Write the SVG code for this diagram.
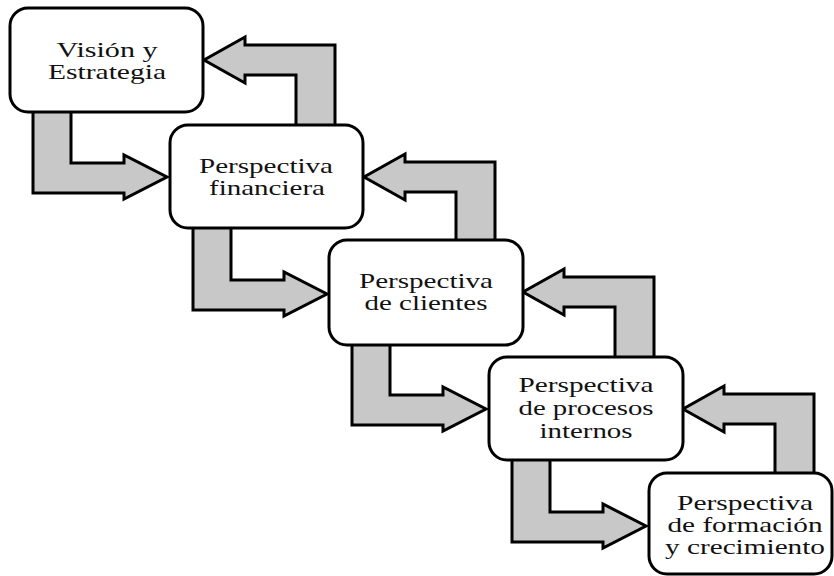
<svg xmlns="http://www.w3.org/2000/svg" width="834" height="576" viewBox="0 0 834 576">
<style>
.arrow{fill:#c8c8c8;stroke:#000;stroke-width:3;stroke-linejoin:miter}
.box{fill:#fff;stroke:#000;stroke-width:3}
.t{font-family:'Liberation Serif','Times New Roman',Tinos,serif;font-size:21px;fill:#111;text-anchor:middle}
</style>
<rect width="834" height="576" fill="#fff"/>
<g id="connectors">
<path class="arrow" d="M33,108 L71,108 L71,163 L124,163 L124,155 L167,177 L124,199 L124,193 L33,193 Z"/>
<path class="arrow" d="M193,225 L231,225 L231,280 L284,280 L284,272 L327,294 L284,316 L284,310 L193,310 Z"/>
<path class="arrow" d="M352,340 L390,340 L390,395 L443,395 L443,387 L486,409 L443,431 L443,425 L352,425 Z"/>
<path class="arrow" d="M512,457 L550,457 L550,512 L603,512 L603,504 L646,526 L603,548 L603,542 L512,542 Z"/>
<path class="arrow" d="M335,128 L335,45 L245,45 L245,37 L204,60 L245,83 L245,75 L296,75 L296,128 Z"/>
<path class="arrow" d="M495,245 L495,162 L405,162 L405,154 L364,177 L405,200 L405,192 L456,192 L456,245 Z"/>
<path class="arrow" d="M654,360 L654,277 L564,277 L564,269 L523,292 L564,315 L564,307 L615,307 L615,360 Z"/>
<path class="arrow" d="M814,477 L814,394 L724,394 L724,386 L683,409 L724,432 L724,424 L775,424 L775,477 Z"/>
</g>
<g id="vision">
<rect class="box" x="10" y="8" width="193" height="104" rx="18"/>
<text class="t" x="107" y="57" textLength="101" lengthAdjust="spacingAndGlyphs">Visión y</text>
<text class="t" x="107" y="79" textLength="118" lengthAdjust="spacingAndGlyphs">Estrategia</text>
</g>
<g id="financiera">
<rect class="box" x="170" y="125" width="193" height="103" rx="18"/>
<text class="t" x="266" y="173" textLength="134" lengthAdjust="spacingAndGlyphs">Perspectiva</text>
<text class="t" x="267" y="195" textLength="116" lengthAdjust="spacingAndGlyphs">financiera</text>
</g>
<g id="clientes">
<rect class="box" x="329" y="240" width="194" height="105" rx="18"/>
<text class="t" x="426" y="288" textLength="134" lengthAdjust="spacingAndGlyphs">Perspectiva</text>
<text class="t" x="426" y="310" textLength="123" lengthAdjust="spacingAndGlyphs">de clientes</text>
</g>
<g id="procesos">
<rect class="box" x="489" y="357" width="194" height="103" rx="18"/>
<text class="t" x="586" y="392" textLength="135" lengthAdjust="spacingAndGlyphs">Perspectiva</text>
<text class="t" x="586" y="415" textLength="135" lengthAdjust="spacingAndGlyphs">de procesos</text>
<text class="t" x="586" y="438" textLength="93" lengthAdjust="spacingAndGlyphs">internos</text>
</g>
<g id="formacion">
<rect class="box" x="649" y="473" width="183" height="101" rx="18"/>
<text class="t" x="745" y="510" textLength="136" lengthAdjust="spacingAndGlyphs">Perspectiva</text>
<text class="t" x="745" y="532" textLength="155" lengthAdjust="spacingAndGlyphs">de formación</text>
<text class="t" x="745" y="554" textLength="160" lengthAdjust="spacingAndGlyphs">y crecimiento</text>
</g>
</svg>
